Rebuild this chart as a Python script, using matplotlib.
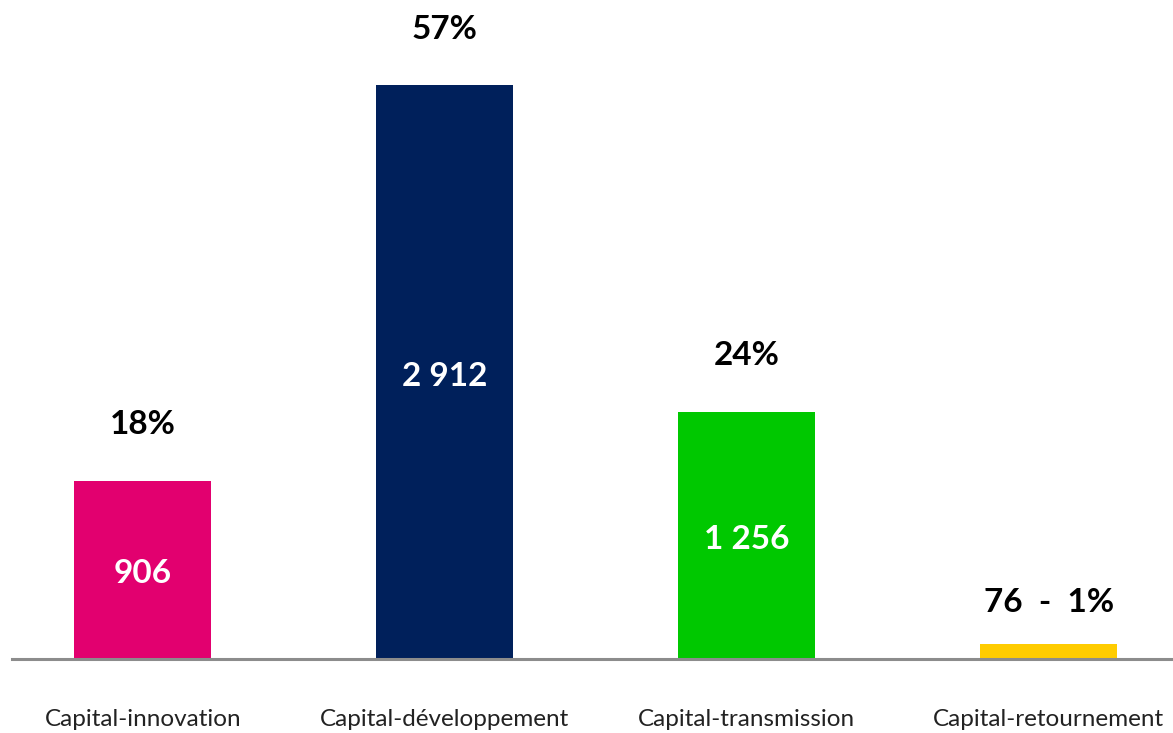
import matplotlib.pyplot as plt

categories = ['Capital-innovation', 'Capital-développement',
              'Capital-transmission', 'Capital-retournement']
values = [906, 2912, 1256, 76]
shares = ['18%', '57%', '24%', '1%']
value_labels = ['906', '2 912', '1 256', '76']
colors = ['#e2006f', '#00205b', '#00c800', '#ffcc00']

plt.rcParams['font.family'] = ['Lato', 'DejaVu Sans']

fig = plt.figure(figsize=(11.73, 7.33), dpi=100)
ax = fig.add_axes([0.0, 74 / 733, 1.0, 659 / 733])

x = range(len(categories))
ax.bar(x, values, width=0.4536, color=colors, zorder=2)

for i, (v, s, lab) in enumerate(zip(values, shares, value_labels)):
    if v > 300:
        ax.annotate(lab, (i, v / 2), xytext=(0, -4), textcoords='offset pixels',
                    ha='center', va='center', color='white',
                    fontsize=24, fontweight='bold')
        ax.annotate(s, (i, v), xytext=(0, 56), textcoords='offset pixels',
                    ha='center', va='center', fontsize=24, fontweight='bold')
    else:
        ax.annotate(lab + '  -  ' + s, (i, v), xytext=(0, 42),
                    textcoords='offset pixels', ha='center', va='center',
                    fontsize=24, fontweight='bold')

ax.set_xlim(-0.4735, 3.411)
ax.set_ylim(0, 3345)
ax.axhline(0, xmin=0.0102, color='#8c8c8c', lw=2.2, zorder=3, clip_on=False)

for sp in ax.spines.values():
    sp.set_visible(False)
ax.set_yticks([])
ax.set_xticks(list(x))
ax.set_xticklabels(categories, fontsize=17.5, color='#222222')
ax.tick_params(axis='x', length=0, pad=36)

fig.savefig('out.png', dpi=100)
